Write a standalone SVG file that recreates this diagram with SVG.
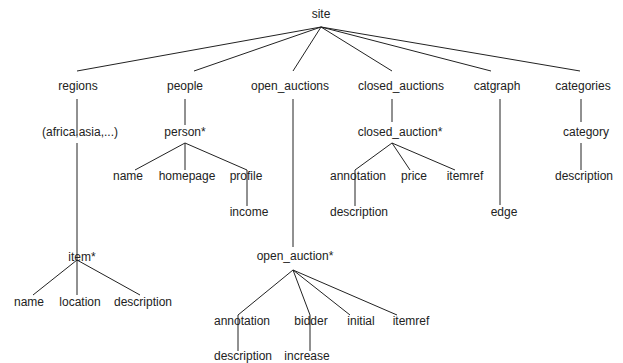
<svg xmlns="http://www.w3.org/2000/svg" width="623" height="363" viewBox="0 0 623 363">
<style>
text{font-family:"Liberation Sans",Arial,sans-serif;font-size:12px;fill:#222;text-anchor:middle}
.c line{stroke:#222;stroke-width:1}
</style>
<rect width="623" height="363" fill="#fff"/>
<g class="c" id="connectors">
<line x1="321" y1="27" x2="77" y2="71"/>
<line x1="321" y1="27" x2="194" y2="71"/>
<line x1="321" y1="27" x2="293" y2="71"/>
<line x1="321" y1="27" x2="392" y2="71"/>
<line x1="321" y1="27" x2="491" y2="71"/>
<line x1="321" y1="27" x2="580" y2="71"/>
<line x1="77" y1="99" x2="77" y2="135"/>
<line x1="77" y1="143" x2="77" y2="260"/>
<line x1="77" y1="260" x2="33" y2="295"/>
<line x1="77" y1="260" x2="77" y2="295"/>
<line x1="77" y1="260" x2="140" y2="295"/>
<line x1="185" y1="99" x2="185" y2="125"/>
<line x1="185" y1="143" x2="135" y2="170"/>
<line x1="185" y1="143" x2="185" y2="170"/>
<line x1="185" y1="143" x2="247" y2="170"/>
<line x1="247" y1="170" x2="247" y2="206"/>
<line x1="293" y1="99" x2="293" y2="247"/>
<line x1="293" y1="270" x2="238" y2="315"/>
<line x1="293" y1="270" x2="310" y2="315"/>
<line x1="293" y1="270" x2="350" y2="315"/>
<line x1="293" y1="270" x2="397" y2="315"/>
<line x1="238" y1="315" x2="238" y2="351"/>
<line x1="310" y1="315" x2="310" y2="351"/>
<line x1="392" y1="99" x2="392" y2="122"/>
<line x1="392" y1="143" x2="355" y2="170"/>
<line x1="392" y1="143" x2="410" y2="170"/>
<line x1="392" y1="143" x2="455" y2="170"/>
<line x1="355" y1="170" x2="355" y2="206"/>
<line x1="500" y1="99" x2="500" y2="205"/>
<line x1="581" y1="99" x2="581" y2="122"/>
<line x1="581" y1="143" x2="581" y2="170"/>
</g>
<g id="site"><text x="321" y="18">site</text></g>
<g id="regions"><text x="78" y="90">regions</text></g>
<g id="people"><text x="185" y="90">people</text></g>
<g id="open_auctions"><text x="290" y="90">open_auctions</text></g>
<g id="closed_auctions"><text x="401" y="90">closed_auctions</text></g>
<g id="catgraph"><text x="497" y="90">catgraph</text></g>
<g id="categories"><text x="583" y="90">categories</text></g>
<g id="africa"><text x="80" y="136">(africa,asia,...)</text></g>
<g id="person"><text x="185" y="136">person*</text></g>
<g id="closed_auction"><text x="400" y="136">closed_auction*</text></g>
<g id="category"><text x="586" y="136">category</text></g>
<g id="p_name"><text x="128" y="180">name</text></g>
<g id="p_homepage"><text x="187" y="180">homepage</text></g>
<g id="p_profile"><text x="246" y="180">profile</text></g>
<g id="c_annotation"><text x="358" y="180">annotation</text></g>
<g id="c_price"><text x="414" y="180">price</text></g>
<g id="c_itemref"><text x="465" y="180">itemref</text></g>
<g id="cat_description"><text x="584" y="180">description</text></g>
<g id="income"><text x="249" y="216">income</text></g>
<g id="c_description"><text x="359" y="216">description</text></g>
<g id="edge"><text x="504" y="216">edge</text></g>
<g id="item"><text x="82" y="261">item*</text></g>
<g id="open_auction"><text x="295" y="260">open_auction*</text></g>
<g id="i_name"><text x="29" y="306">name</text></g>
<g id="i_location"><text x="80" y="306">location</text></g>
<g id="i_description"><text x="143" y="306">description</text></g>
<g id="o_annotation"><text x="242" y="325">annotation</text></g>
<g id="o_bidder"><text x="311" y="325">bidder</text></g>
<g id="o_initial"><text x="361" y="325">initial</text></g>
<g id="o_itemref"><text x="411" y="325">itemref</text></g>
<g id="o_description"><text x="243" y="360">description</text></g>
<g id="increase"><text x="307" y="360">increase</text></g>
</svg>
